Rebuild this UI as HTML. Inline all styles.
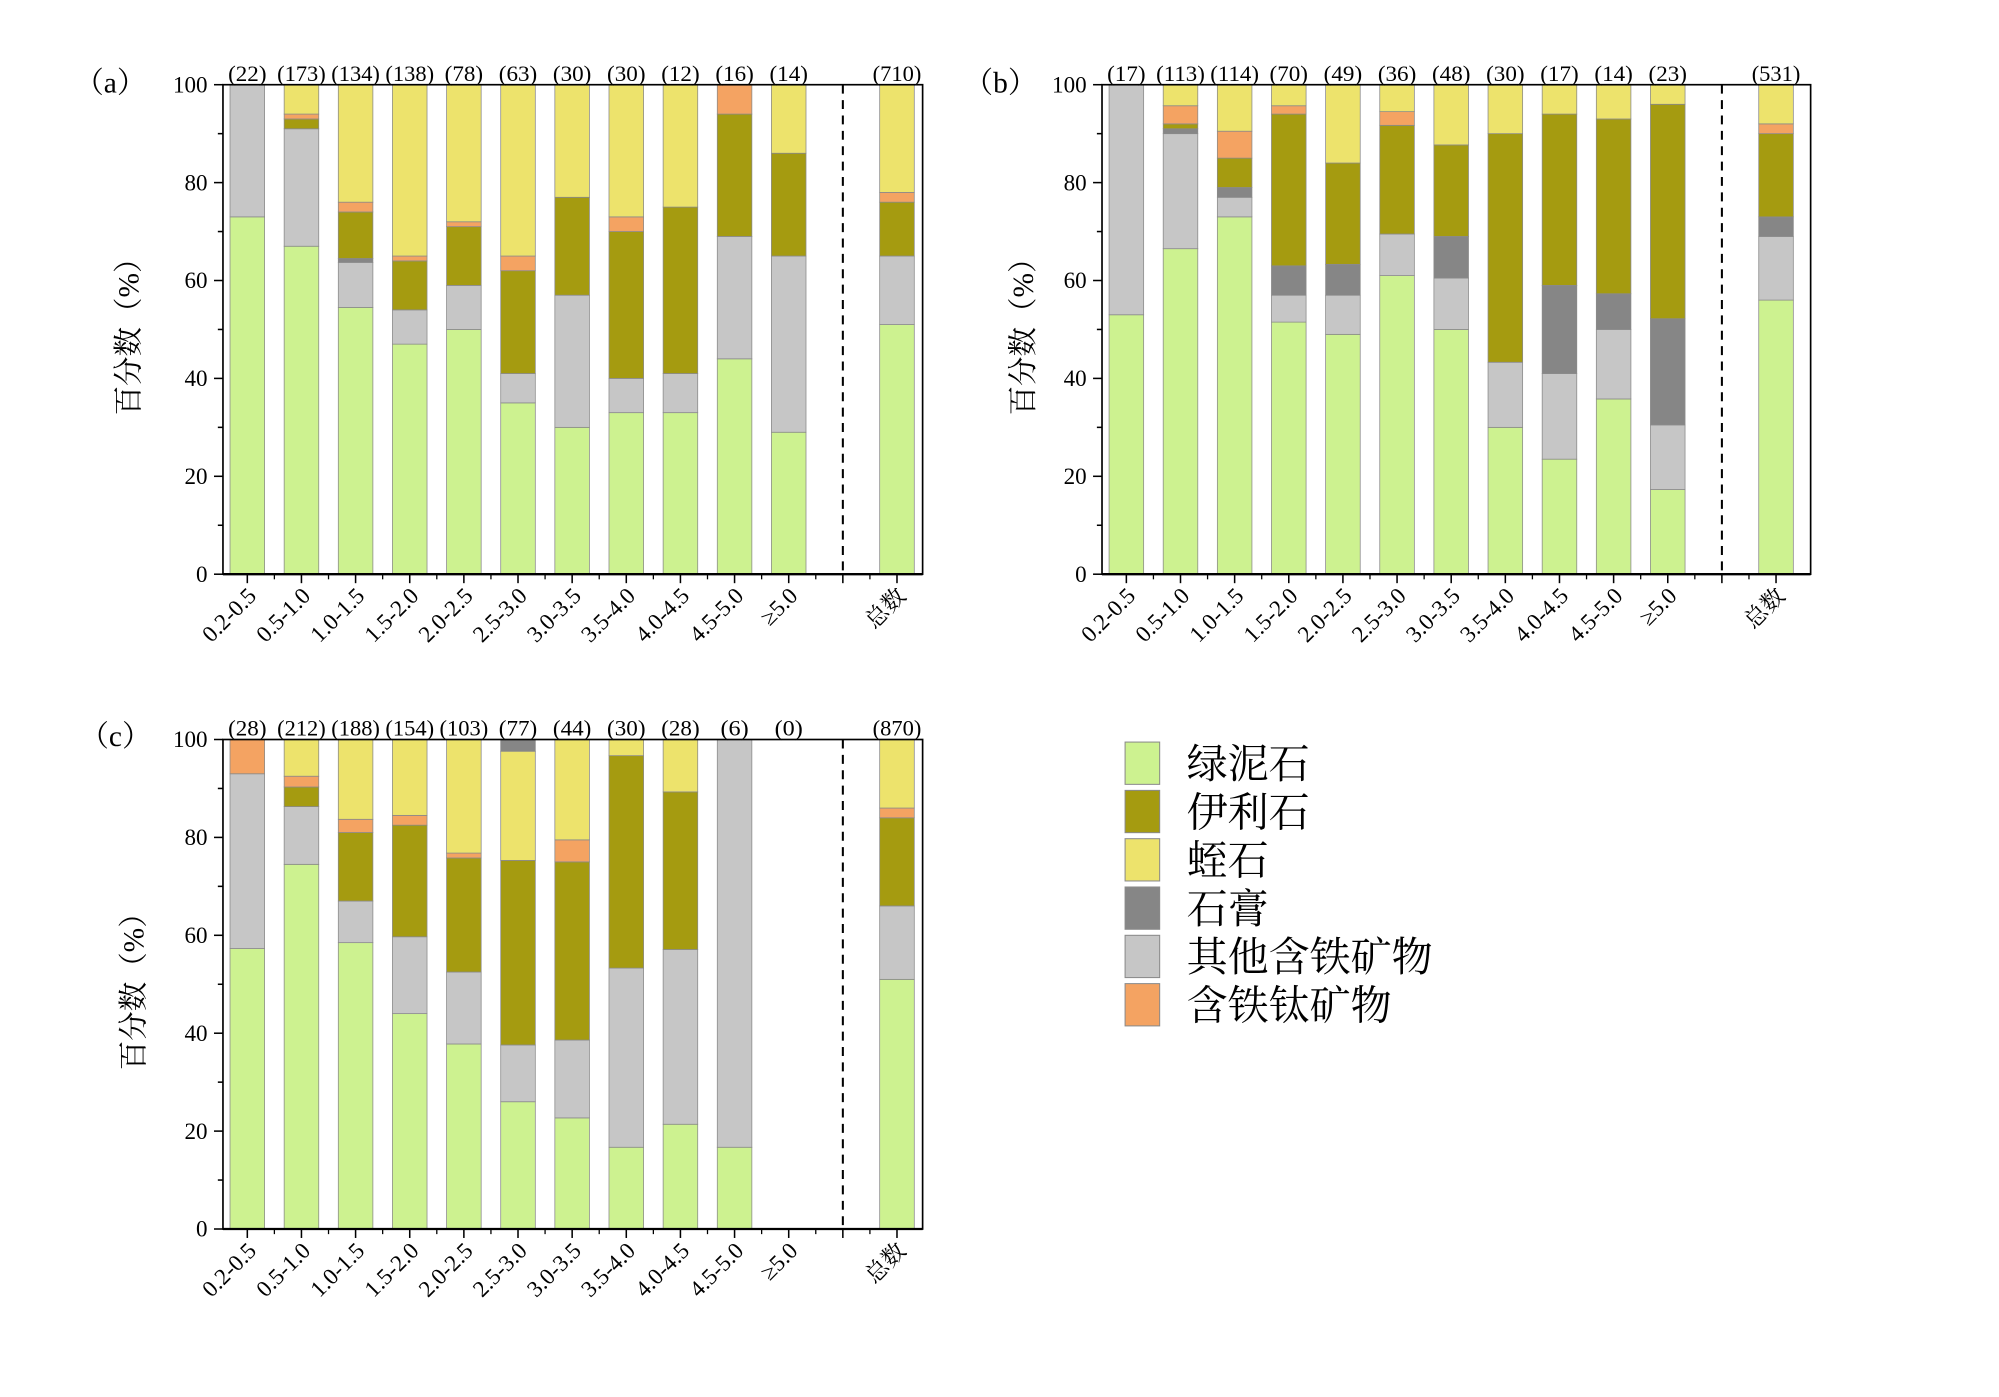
<!DOCTYPE html>
<html><head><meta charset="utf-8"><style>
html,body{margin:0;padding:0;background:#fff;}
svg{display:block;}
text{font-family:"Liberation Serif","Noto Serif CJK SC","Noto Sans CJK SC",serif;fill:#000;}
</style></head><body>
<svg id="fig" width="1999" height="1397" viewBox="0 0 1560 1090" xmlns="http://www.w3.org/2000/svg"></svg>
<script>
const categories = ["0.2-0.5","0.5-1.0","1.0-1.5","1.5-2.0","2.0-2.5","2.5-3.0","3.0-3.5","3.5-4.0","4.0-4.5","4.5-5.0","≥5.0","总数"];
const seriesNames = ["绿泥石","其他含铁矿物","石膏","伊利石","含铁钛矿物","蛭石","石膏"];
const seriesColors = ["#cdf290","#c6c6c6","#868686","#a59b10","#f4a362","#ede36c","#868686"];
const legendOrder = [0,3,5,2,1,4];
const yTicks = [0,20,40,60,80,100];
const aCounts = ["(22)","(173)","(134)","(138)","(78)","(63)","(30)","(30)","(12)","(16)","(14)","(710)"];
const aGreen = [73,67,54.5,47,50,35,30,33,33,44,29,51];
const aOther = [27,24,9.2,7,9,6,27,7,8,25,36,14];
const aGyp   = [0,0,0.8,0,0,0,0,0,0,0,0,0];
const aIll   = [0,2,9.5,10,12,21,20,30,34,25,21,11];
const aFeTi  = [0,1,2,1,1,3,0,3,0,6,0,2];
const aVerm  = [0,6,24,35,28,35,23,27,25,0,14,22];
const aGypTop= [0,0,0,0,0,0,0,0,0,0,0,0];
const bCounts = ["(17)","(113)","(114)","(70)","(49)","(36)","(48)","(30)","(17)","(14)","(23)","(531)"];
const bGreen = [53,66.5,73,51.5,49,61,50,30,23.5,35.8,17.3,56];
const bOther = [47,23.5,4,5.5,8,8.5,10.5,13.3,17.5,14.2,13.2,13];
const bGyp   = [0,1,2,6,6.3,0,8.5,0,18,7.3,21.7,4];
const bIll   = [0,1,6,31,20.7,22.2,18.7,46.7,35,35.7,43.8,17];
const bFeTi  = [0,3.7,5.5,1.7,0,2.8,0,0,0,0,0,2];
const bVerm  = [0,4.3,9.5,4.3,16,5.5,12.3,10,6,7,4,8];
const bGypTop= [0,0,0,0,0,0,0,0,0,0,0,0];
const cCounts = ["(28)","(212)","(188)","(154)","(103)","(77)","(44)","(30)","(28)","(6)","(0)","(870)"];
const cGreen = [57.3,74.5,58.5,44,37.8,26,22.7,16.7,21.4,16.7,0,51];
const cOther = [35.7,11.8,8.5,15.7,14.7,11.6,15.9,36.6,35.7,83.3,0,15];
const cGyp   = [0,0,0,0,0,0,0,0,0,0,0,0];
const cIll   = [0,4,14,22.8,23.3,37.7,36.4,43.4,32.2,0,0,18];
const cFeTi  = [7,2.2,2.7,2,1,0,4.5,0,0,0,0,2];
const cVerm  = [0,7.5,16.3,15.5,23.2,22.3,20.5,3.3,10.7,0,0,14];
const cGypTop= [0,0,0,0,0,2.4,0,0,0,0,0,0];

const NS="http://www.w3.org/2000/svg";
const svg=document.getElementById('fig');
function mk(tag,attrs,parent){const e=document.createElementNS(NS,tag);for(const k in attrs)e.setAttribute(k,attrs[k]);(parent||svg).appendChild(e);return e;}

function panel(id,left,right,top,bottom,labelX,labelY,titleX,counts,series){
  const g=mk('g',{});
  
  
  const slot=42.25, first=left+19;
  const xPos=i=> i<11? first+i*slot : first+12*slot;
  const yPos=v=> bottom-(v/100)*(bottom-top);
  const bw=27;
  categories.forEach((c,i)=>{
    let acc=0;
    series.forEach((arr,s)=>{
      const v=arr[i]; if(!v) {return;}
      const r=mk('rect',{x:xPos(i)-bw/2,y:yPos(acc+v),width:bw,height:yPos(acc)-yPos(acc+v),fill:seriesColors[s],stroke:'#8a8a8a','stroke-width':0.6},g);
      
      
      acc+=v;
    });
    const t=mk('text',{x:xPos(i),y:top-3,'text-anchor':'middle','font-size':17,textLength:counts[i].length>4?38:(counts[i].length>3?30:22),lengthAdjust:'spacingAndGlyphs'},g);
    
    
    t.textContent=counts[i];
    const xl=mk('text',{x:xPos(i)+8,y:bottom+18,'text-anchor':'end','font-size':18,transform:`rotate(-45 ${xPos(i)+8} ${bottom+18})`},g);
    
    
    xl.textContent=c;
  });
  mk('rect',{x:left,y:top,width:right-left,height:bottom-top,fill:'none',stroke:'#000','stroke-width':1.3},g);
  mk('line',{x1:left,y1:bottom,x2:right,y2:bottom,stroke:'#000','stroke-width':1.8},g);
  const dx=first+11*slot;
  const d=mk('line',{x1:dx,y1:top,x2:dx,y2:bottom,stroke:'#000','stroke-width':1.6,'stroke-dasharray':'7,5'},g);
  
  
  for(let i=0;i<13;i++){const x=first+i*slot;mk('line',{x1:x,y1:bottom,x2:x,y2:bottom+7,stroke:'#000','stroke-width':1.2},g);
    if(i<12){const xm=x+slot/2;mk('line',{x1:xm,y1:bottom,x2:xm,y2:bottom+4,stroke:'#000','stroke-width':1},g);}}
  for(let v=0;v<=100;v+=10){const y=yPos(v);const maj=v%20===0;
    mk('line',{x1:left,y1:y,x2:left-(maj?7:4),y2:y,stroke:'#000','stroke-width':1.2},g);}
  yTicks.forEach(v=>{const t=mk('text',{x:left-12,y:yPos(v)+6,'text-anchor':'end','font-size':18},g);
    
    
    t.textContent=v;});
  const yt=mk('text',{x:titleX,y:(top+bottom)/2,'text-anchor':'middle','font-size':23,transform:`rotate(-90 ${titleX} ${(top+bottom)/2})`},g);
  
  
  yt.textContent='百分数（%）';
  const pl=mk('text',{x:labelX,y:labelY,'font-size':23},g);
  
  
  pl.textContent='（'+id+'）';
}
panel('a',174,720,66,448,58,72,108,aCounts,[aGreen,aOther,aGyp,aIll,aFeTi,aVerm,aGypTop]);
panel('b',860,1413,66,448,752,72,806,bCounts,[bGreen,bOther,bGyp,bIll,bFeTi,bVerm,bGypTop]);
panel('c',174,720,577,959,62,582,112,cCounts,[cGreen,cOther,cGyp,cIll,cFeTi,cVerm,cGypTop]);

const lg=mk('g',{});


legendOrder.forEach((s,k)=>{
  const y=579+k*37.7;
  const r=mk('rect',{x:878,y:y,width:27,height:33,fill:seriesColors[s],stroke:'#8a8a8a','stroke-width':0.8},lg);
  
  
  const t=mk('text',{x:926,y:y+28,'font-size':32},lg);
  
  
  t.textContent=seriesNames[s];
});
</script>
</body></html>
